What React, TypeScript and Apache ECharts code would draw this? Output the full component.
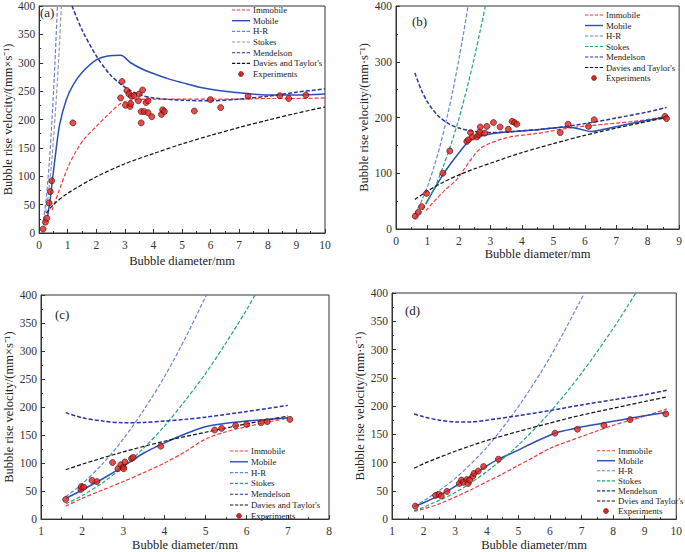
import React, { useEffect, useRef } from "react";
import * as echarts from "echarts";

// ---------- Panel (a) ----------
const aImmobile = [[0.45,40],[0.7,75],[1.0,115],[1.3,145],[1.6,167],[2.0,188],[2.4,208],[2.85,228],[3.2,234],[4,236],[5,236],[6,236],[7,236],[8,237],[9,237],[10,238]];
const aMobile = [[0.3,30],[0.4,65],[0.48,100],[0.6,150],[0.72,192],[0.95,235],[1.2,262],[1.5,283],[2.0,305],[2.4,312],[2.85,313],[3.2,300],[3.6,289],[4.0,281],[4.5,272],[5.0,265],[5.7,256],[6.8,248],[8.0,243],[9,243],[10,245]];
const aHR = [[0.15,22],[0.25,62],[0.35,121],[0.45,200],[0.55,298],[0.64,400]];
const aStokes = [[0.15,15],[0.3,59],[0.45,133],[0.6,237],[0.7,322],[0.78,400]];
const aMendelson = [[1.15,400],[1.5,358],[2.0,312],[2.5,278],[3.0,257],[3.5,244],[4.0,238],[5.0,234],[6.0,233],[7.0,236],[8.0,241],[9.0,248],[10,254]];
const aDavies = [[0.25,35],[0.5,50],[1,70],[2,99],[3,122],[4,140],[5,157],[6,172],[7,186],[8,199],[9,211],[10,222]];
const aExp = [[0.14,7],[0.22,19],[0.27,26],[0.35,53],[0.39,73],[0.44,92],[1.18,194],[2.85,238],[2.9,267],[3.02,225],[3.07,251],[3.14,245],[3.18,223],[3.2,228],[3.23,241],[3.32,242],[3.47,233],[3.5,245],[3.57,214],[3.57,194],[3.62,252],[3.67,214],[3.74,230],[3.81,233],[3.81,212],[3.94,205],[4.28,209],[4.32,217],[4.38,214],[5.43,215],[5.99,235],[6.35,221],[7.31,241],[8.42,242],[8.73,237],[9.33,243]];

// ---------- Panel (b) ----------
const bImmobile = [[0.95,33],[1.3,55],[1.6,72],[1.92,88],[2.2,110],[2.45,130],[2.7,145],[3.0,154],[3.4,162],[3.72,166],[4.56,172],[5.6,182],[6.67,188],[7.7,194],[8.6,202]];
const bMobile = [[0.95,45],[1.2,70],[1.5,98],[1.8,122],[2.05,140],[2.3,157],[2.5,163],[2.8,168],[3.2,172],[3.5,174],[4.5,178],[5.4,183],[5.8,180],[6.2,175],[6.6,179],[7.2,186],[8.0,195],[8.6,201]];
const bHR = [[0.6,27],[0.8,49],[1.0,76],[1.2,110],[1.4,149],[1.6,195],[1.8,246],[2.0,305],[2.15,352],[2.29,400]];
const bStokes = [[0.6,18],[0.8,32],[1.0,50],[1.25,77],[1.5,112],[1.75,152],[2.0,198],[2.25,251],[2.5,310],[2.7,362],[2.84,400]];
const bMendelson = [[0.6,280],[0.8,250],[1.0,228],[1.2,212],[1.4,200],[1.7,188],[2.0,181],[2.5,175],[3.0,173],[4.0,176],[5.0,181],[6.0,189],[7.0,199],[8.0,210],[8.6,218]];
const bDavies = [[0.6,53],[1,68],[1.5,84],[2,97],[2.5,108],[3,118],[4,137],[5,153],[6,168],[7,181],[8,193],[8.6,200]];
const bExp = [[0.61,23],[0.71,30],[0.82,40],[0.97,64],[1.49,100],[1.71,140],[2.25,157],[2.3,160],[2.37,173],[2.43,165],[2.57,165],[2.63,169],[2.66,174],[2.68,183],[2.82,172],[2.89,184],[3.1,191],[3.31,183],[3.57,179],[3.69,193],[3.77,191],[3.84,188],[5.22,173],[5.47,188],[6.12,184],[6.3,196],[8.55,202],[8.6,198]];

// ---------- Panel (c) ----------
const cImmobile = [[1.6,23],[2,37],[2.5,52],[3,67],[3.5,83],[4,100],[4.5,120],[5,143],[5.5,156],[6,165],[6.5,173],[7,180]];
const cMobile = [[1.6,37],[2,52],[2.5,72],[3,94],[3.5,118],[4,136],[4.5,152],[5,165],[5.5,171],[6,175],[6.5,178],[7,181]];
const cHR = [[1.6,40],[2,63],[2.5,99],[3,143],[3.5,195],[4,254],[4.5,322],[5.02,400]];
const cStokes = [[1.6,27],[2,42],[2.5,65],[3,94],[3.5,127],[4,166],[4.5,211],[5,260],[5.5,315],[6,374],[6.2,400]];
const cMendelson = [[1.6,190],[2,181],[2.5,175],[3,172],[3.5,172.5],[4,175],[4.5,178],[5,182],[6,192],[7,203]];
const cDavies = [[1.6,88],[2,98],[3,120],[4,139],[5,155],[6,170],[7,184]];
const cExp = [[1.6,35],[1.97,53],[1.98,58],[2.04,57],[2.24,69],[2.36,67],[2.74,101],[2.87,90],[2.94,97],[3.0,93],[3.01,90],[3.04,102],[3.2,108],[3.24,110],[3.91,130],[5.22,159],[5.39,162],[5.73,167],[6.0,169],[6.35,172],[6.5,174],[7.05,178]];

// ---------- Panel (d) ----------
const dImmobile = [[1.7,14],[2,18],[2.5,27],[3,39],[3.5,52],[4,66],[4.5,80],[5,95],[5.5,110],[6,125],[6.5,136],[7,146],[7.5,156],[8,166],[8.5,174],[9,182],[9.7,195]];
const dMobile = [[1.7,22],[2,29],[2.5,42],[3,58],[3.5,76],[4,94],[4.37,106],[5,122],[5.5,136],[6.16,152],[6.5,157],[7,163],[7.5,168],[8,173],[8.5,178],[9,183],[9.7,189]];
const dHR = [[1.7,23],[2,32],[3,72],[4,127],[5,199],[6,286],[7.09,400]];
const dStokes = [[1.7,15],[2,21],[3,47],[4,84],[5,131],[6,189],[7,258],[8,337],[8.72,400]];
const dMendelson = [[1.7,186],[2,181],[2.5,175],[3,172],[3.5,172],[4,175],[5,183],[6,192],[7,202],[8,211],[9,220],[9.7,228]];
const dDavies = [[1.7,90],[2,98],[3,120],[4,139],[5,155],[6,170],[7,184],[8,196],[9,208],[9.7,216]];
const dExp = [[1.74,23],[2.38,42],[2.49,44],[2.56,41],[2.74,49],[3.13,63],[3.2,69],[3.26,65],[3.37,70],[3.41,63],[3.46,69],[3.56,76],[3.6,81],[3.73,85],[3.9,93],[4.37,106],[6.16,152],[6.87,159],[7.71,166],[8.54,176],[9.67,186]];

const labelsStd = ["Immobile", "Mobile", "H-R", "Stokes", "Mendelson", "Davies and Taylor's", "Experiments"];
const labelsD = ["Immobile", "Mobile", "H-R", "Stokes", "Mendelson", "Dvies and Taylor's", "Experiments"];
const panelTags = ["(a)", "(b)", "(c)", "(d)"];
const xMins = [0, 0, 1, 1];
const xMaxs = [10, 9, 8, 10];
const yIntervals = [50, 100, 50, 50];
const yNames = [
  "Bubble rise velocity/(mm×s⁻¹)",
  "Bubble rise velocity/(mm·s⁻¹)",
  "Bubble rise velocity/(mm×s⁻¹)",
  "Bubble rise velocity/(mm·s⁻¹)",
];

const FONT = "'Liberation Serif', 'Times New Roman', serif";

export default function App() {
  const ref = useRef<HTMLDivElement>(null);
  useEffect(() => {
    if (!ref.current) return;
    const chart = echarts.init(ref.current, undefined, { renderer: "svg" });

    const grids = [
      { left: 36, top: 4, width: 289, height: 229 },
      { left: 396, top: 6, width: 284, height: 223 },
      { left: 41, top: 295, width: 288, height: 230 },
      { left: 392, top: 293, width: 288, height: 229 },
    ];
    // legend layout: line start x, first item centre y, row spacing
    const legendPos = [
      { x: 232, y: 10, dy: 10.67 },
      { x: 585, y: 15, dy: 10.5 },
      { x: 230, y: 451, dy: 10.8 },
      { x: 597, y: 450.7, dy: 10.05 },
    ];
    const tagPos = [
      [40, 6], [412, 15], [55, 308], [405, 304],
    ];
    const yNameGap = [14, 23, 18, 15];
    const xNameGap = [21, 18, 16, 13];
    const panels = [
      { im: aImmobile, mo: aMobile, hr: aHR, st: aStokes, me: aMendelson, dv: aDavies, ex: aExp, stColor: "#9a9a9a", labels: labelsStd },
      { im: bImmobile, mo: bMobile, hr: bHR, st: bStokes, me: bMendelson, dv: bDavies, ex: bExp, stColor: "#1fa870", labels: labelsStd },
      { im: cImmobile, mo: cMobile, hr: cHR, st: cStokes, me: cMendelson, dv: cDavies, ex: cExp, stColor: "#1fa870", labels: labelsStd },
      { im: dImmobile, mo: dMobile, hr: dHR, st: dStokes, me: dMendelson, dv: dDavies, ex: dExp, stColor: "#1fa870", labels: labelsD },
    ];

    const series: any[] = [];
    const graphics: any[] = [];
    panels.forEach((p, i) => {
      const nm = (k: number) => `${i}:${p.labels[k]}`;
      const colors = ["#f03a3a", "#2b50b5", "#6685dc", p.stColor, "#2c33a3", "#141414", "#e3201e"];
      const widths = [1.2, 1.5, 1.2, 1.2, 1.5, 1.2];
      const line = (k: number, data: number[][]) => ({
        type: "line",
        name: nm(k),
        xAxisIndex: i,
        yAxisIndex: i,
        data,
        symbol: "none",
        smooth: 0.3,
        lineStyle: { color: colors[k], width: widths[k], type: k === 1 ? "solid" : [4, 2] },
        itemStyle: { color: colors[k] },
        z: 2,
      });
      series.push(line(0, p.im));
      series.push(line(1, p.mo));
      series.push(line(2, p.hr));
      series.push(line(3, p.st));
      series.push(line(4, p.me));
      series.push(line(5, p.dv));
      series.push({
        type: "scatter",
        name: nm(6),
        xAxisIndex: i,
        yAxisIndex: i,
        data: p.ex,
        symbol: "circle",
        symbolSize: 6,
        itemStyle: { color: "#e3201e", borderColor: "#3a1010", borderWidth: 0.8 },
        z: 5,
      });

      // legend drawn as graphic elements
      const lp = legendPos[i];
      const children: any[] = [];
      p.labels.forEach((lab, k) => {
        const cy = lp.dy * k;
        if (k === 6) {
          children.push({
            type: "circle",
            shape: { cx: 9, cy, r: 2.5 },
            style: { fill: colors[6], stroke: "#3a1010", lineWidth: 0.5 },
          });
        } else {
          children.push({
            type: "line",
            shape: { x1: 0, y1: cy, x2: 18, y2: cy },
            style: {
              stroke: colors[k],
              lineWidth: k === 1 ? 1.4 : 1.1,
              lineDash: k === 1 ? null : [3.3, 1.6],
            },
          });
        }
        children.push({
          type: "text",
          x: 21,
          y: cy,
          style: {
            text: lab,
            fontFamily: FONT,
            fontSize: 8.8,
            fill: "#222",
            verticalAlign: "middle",
            align: "left",
          },
        });
      });
      graphics.push({ type: "group", x: lp.x, y: lp.y, children, z: 10 });
      graphics.push({
        type: "text",
        left: tagPos[i][0],
        top: tagPos[i][1],
        style: { text: panelTags[i], fontFamily: FONT, fontSize: 13, fill: "#222" },
      });
    });

    const option: any = {
      animation: false,
      backgroundColor: "#fff",
      grid: grids.map((g) => ({ ...g, show: true, borderColor: "#333", borderWidth: 1, backgroundColor: "transparent" })),
      xAxis: grids.map((_, i) => ({
        type: "value",
        gridIndex: i,
        min: xMins[i],
        max: xMaxs[i],
        interval: 1,
        name: "Bubble diameter/mm",
        nameLocation: "middle",
        nameGap: xNameGap[i],
        nameTextStyle: { fontFamily: FONT, fontSize: 12.5, color: "#222" },
        axisLine: { show: true, lineStyle: { color: "#333", width: 1 } },
        axisTick: { show: true, inside: true, length: 4, lineStyle: { color: "#333" } },
        minorTick: { show: true, splitNumber: 2, length: 2, lineStyle: { color: "#333" } },
        axisLabel: { fontFamily: FONT, fontSize: 11.5, color: "#333", margin: 6 },
        splitLine: { show: false },
      })),
      yAxis: grids.map((_, i) => ({
        type: "value",
        gridIndex: i,
        min: 0,
        max: 400,
        interval: yIntervals[i],
        name: yNames[i],
        nameLocation: "middle",
        nameRotate: 90,
        nameGap: yNameGap[i],
        nameTextStyle: { fontFamily: FONT, fontSize: 12.5, color: "#222" },
        axisLine: { show: true, lineStyle: { color: "#333", width: 1 } },
        axisTick: { show: true, inside: true, length: 4, lineStyle: { color: "#333" } },
        minorTick: { show: true, splitNumber: 2, length: 2, lineStyle: { color: "#333" } },
        axisLabel: { fontFamily: FONT, fontSize: 11.5, color: "#333", margin: 4 },
        splitLine: { show: false },
      })),
      series,
      graphic: graphics,
    };
    chart.setOption(option);
    return () => chart.dispose();
  }, []);
  return <div ref={ref} style={{ position: "absolute", left: 0, top: 0, width: 685, height: 552 }} />;
}
